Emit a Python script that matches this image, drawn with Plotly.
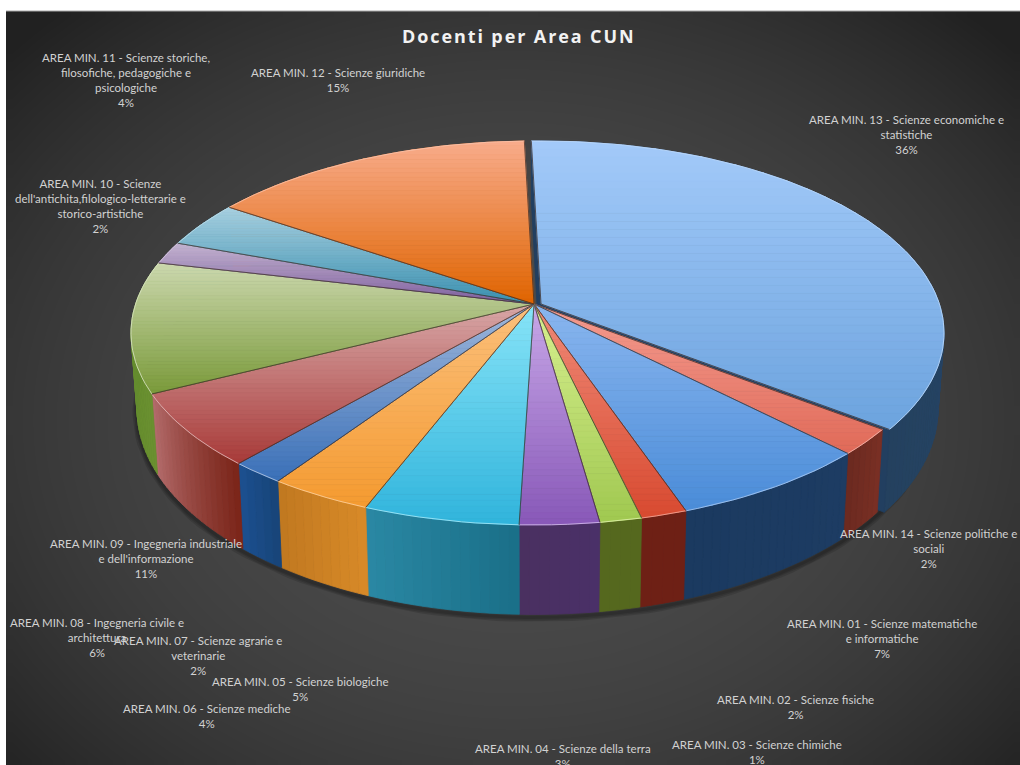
import numpy as np
import plotly.graph_objects as go

# Share of teaching staff per CUN area, in clockwise order from the top of the pie
area_names = [
    "AREA MIN. 13 - Scienze economiche e<br>statistiche",
    "AREA MIN. 14 - Scienze politiche e<br>sociali",
    "AREA MIN. 01 - Scienze matematiche<br>e informatiche",
    "AREA MIN. 02 - Scienze fisiche",
    "AREA MIN. 03 - Scienze chimiche",
    "AREA MIN. 04 - Scienze della terra",
    "AREA MIN. 05 - Scienze biologiche",
    "AREA MIN. 06 - Scienze mediche",
    "AREA MIN. 07 - Scienze agrarie e<br>veterinarie",
    "AREA MIN. 08 - Ingegneria civile e<br>architettura",
    "AREA MIN. 09 - Ingegneria industriale<br>e dell'informazione",
    "AREA MIN. 10 - Scienze<br>dell'antichita,filologico-letterarie e<br>storico-artistiche",
    "AREA MIN. 11 - Scienze storiche,<br>filosofiche, pedagogiche e<br>psicologiche",
    "AREA MIN. 12 - Scienze giuridiche",
]
area_shares = [35.8, 2.2, 7.1, 1.6, 1.45, 2.75, 5.4, 3.6, 1.9, 6.2, 11.0, 1.9, 3.9, 15.1]

# Face colours: light and saturated end of each top gradient, then the two ends of each rim
top_light = ["#a3caf9", "#f59c90", "#8ab6ef", "#f08a78", "#d8f090", "#c8a8e8", "#88e4f8",
             "#fcc07c", "#a0b8dc", "#d8a8a8", "#ccd8ae", "#c4b4d0", "#a8d0e0", "#f8ac8c"]
top_deep = ["#6ca3de", "#e06a58", "#4a8cd8", "#d84a30", "#a0c850", "#8858b8", "#30b4dc",
            "#f49a30", "#3a70b8", "#a83a38", "#7a9a3a", "#8060a0", "#3a90b0", "#e06400"]
rim_start = ["#2d4e75", "#7a2f24", "#1d3c63", "#6e2015", "#55681e", "#4a3068", "#1a6f88",
             "#d88a28", "#174478", "#7a2418", "#6a9030", "#6a5080", "#2a7088", "#b05010"]
rim_end = ["#24415f", "#6b2a20", "#1b3a60", "#6e2015", "#55681e", "#4a3060", "#2a88a4",
           "#c07820", "#1c5090", "#b46c6c", "#5f8a2c", "#6a5080", "#2a7088", "#b05010"]

# Label anchors (centre x, centre y of the text block)
label_x = [906, 928, 882, 795, 757, 563, 300, 207, 198, 97, 146, 100, 126, 338]
label_y = [134, 548, 638, 707, 752, 756, 689, 716, 655, 637, 558, 206, 80, 80]

START_ANGLE = -1.6
CX, CY = 534.0, 304.0
RADIUS_X, RADIUS_Y, PERSPECTIVE = 398.4, 187.6, 0.151
EXPLODE = (7.0, 0.0)  # first slice is pulled out of the pie


def hex_rgb(c):
    return np.array([int(c[i:i + 2], 16) for i in (1, 3, 5)], float)


def mix(a, b, t):
    r, g, b_ = hex_rgb(a) * (1 - t) + hex_rgb(b) * t
    return f"rgb({r:.0f},{g:.0f},{b_:.0f})"


def disk_point(theta, radius=1.0):
    """Perspective projection of a polar position on the top disk, relative to the centre."""
    t = np.radians(theta)
    u, v = radius * np.sin(t), -radius * np.cos(t)
    s = 1 / (1 - PERSPECTIVE * v)
    return RADIUS_X * u * s, RADIUS_Y * v * s


def lower(p):
    """Same position on the bottom disk of the cylinder."""
    return 0.985 * p[0], 1.07 * p[1] + 74


def place(p, off):
    return CX + off[0] + p[0], CY + off[1] + p[1]


def clip_band(poly, y0, y1):
    """Clip a convex polygon to a horizontal band."""
    def cut(points, keep, y_lim):
        out = []
        for i in range(len(points)):
            a, b = points[i], points[(i + 1) % len(points)]
            if keep(a[1]):
                out.append(a)
            if keep(a[1]) != keep(b[1]):
                t = (y_lim - a[1]) / (b[1] - a[1])
                out.append((a[0] + t * (b[0] - a[0]), y_lim))
        return out
    res = cut(poly, lambda y: y >= y0, y0)
    if res:
        res = cut(res, lambda y: y <= y1, y1)
    return res


fig = go.Figure()


def polygon(points, color, edge=0.8):
    xs = [p[0] for p in points] + [points[0][0]]
    ys = [p[1] for p in points] + [points[0][1]]
    fig.add_trace(go.Scatter(x=xs, y=ys, mode="lines", fill="toself", fillcolor=color,
                             line=dict(color=color, width=edge), hoverinfo="skip",
                             showlegend=False))


def stroke(points, color, width):
    fig.add_trace(go.Scatter(x=[p[0] for p in points], y=[p[1] for p in points], mode="lines",
                             line=dict(color=color, width=width), hoverinfo="skip",
                             showlegend=False))


# Panel background with a soft radial falloff
cell_w, cell_h = 1014 / 90, 754 / 70
grid_x = 6 + cell_w * (np.arange(90) + 0.5)
grid_y = 11 + cell_h * (np.arange(70) + 0.5)
gx, gy = np.meshgrid(grid_x, grid_y)
dist = np.sqrt(((gx - 513) / 507) ** 2 + ((gy - 420) / 400) ** 2)
fig.add_trace(go.Heatmap(x=grid_x, y=grid_y, z=76 - 22 * dist ** 2.2, zmin=33, zmax=76,
                         colorscale=[[0, "rgb(33,33,33)"], [1, "rgb(76,76,76)"]],
                         zsmooth="best", showscale=False, hoverinfo="skip"))

# Slice boundaries in degrees
shares = np.array(area_shares)
edges = START_ANGLE + np.concatenate([[0], np.cumsum(shares)]) * 360 / shares.sum()
offsets = [EXPLODE] + [(0.0, 0.0)] * (len(shares) - 1)

# Drop shadow hugging the lower rim
arc = np.linspace(75, 300, 120)
shadow = [place(lower(disk_point(a)), (0, 3)) for a in arc]
for w in (9, 6, 3):
    stroke(shadow, "rgba(0,0,0,0.13)", w)


def draw_rim(i):
    # Narrow strips so the shading runs along the arc
    a0, a1 = edges[i], edges[i + 1]
    n = max(4, int((a1 - a0) / 1.2))
    steps = np.linspace(a0, a1, n + 1)
    for j in range(n):
        p0, p1 = disk_point(steps[j]), disk_point(steps[j + 1])
        polygon([place(p0, offsets[i]), place(p1, offsets[i]),
                 place(lower(p1), offsets[i]), place(lower(p0), offsets[i])],
                mix(rim_start[i], rim_end[i], (j + 0.5) / n))


# The pulled-out slice and its radial walls sit behind everything else
draw_rim(0)
for ang in (edges[0], edges[1]):
    outer, centre = disk_point(ang), (0.0, 0.0)
    polygon([place(centre, EXPLODE), place(outer, EXPLODE),
             place(lower(outer), EXPLODE), place(lower(centre), EXPLODE)], "#223f60")
for i in range(1, len(shares)):
    draw_rim(i)

# Top faces: each wedge is cut into horizontal bands to carry a vertical gradient
BANDS = 36
for i in range(len(shares)):
    angles = np.linspace(edges[i], edges[i + 1], max(4, int((edges[i + 1] - edges[i]) / 1.5)))
    wedge = [place((0.0, 0.0), offsets[i])] + [place(disk_point(a), offsets[i]) for a in angles]
    ys = [p[1] for p in wedge]
    y_min, y_max = min(ys), max(ys)
    cuts = np.linspace(y_min, y_max, BANDS + 1)
    for b in range(BANDS):
        piece = clip_band(wedge, cuts[b], cuts[b + 1])
        if len(piece) >= 3:
            polygon(piece, mix(top_light[i], top_deep[i], (b + 0.5) / BANDS))
    stroke(wedge[1:], mix(top_light[i], "#ffffff", 0.3), 0.8)
    stroke([wedge[1], wedge[0], wedge[-1]], "rgba(60,45,40,0.75)", 1)

# Data labels, with the percentage taken from the same shares as the wedges
annotations = [
    dict(x=x, y=y, xref="x", yref="y", showarrow=False, align="center", xanchor="center",
         yanchor="middle", text=f"{name}<br>{round(val)}%",
         font=dict(family="Lato", size=11.5, color="#d2d2d2"))
    for name, val, x, y in zip(area_names, area_shares, label_x, label_y)
]
annotations.append(dict(x=519, y=36, xref="x", yref="y", showarrow=False, xanchor="center",
                        yanchor="middle",
                        text='<span style="letter-spacing:1.9px"><b>Docenti per Area CUN</b></span>',
                        font=dict(family="Open Sans", size=18, color="#f2f2f2")))

fig.update_layout(
    width=1020, height=765, autosize=False,
    margin=dict(l=0, r=0, t=0, b=0),
    paper_bgcolor="#ffffff", plot_bgcolor="#ffffff",
    xaxis=dict(range=[0, 1020], visible=False, fixedrange=True),
    yaxis=dict(range=[765, 0], visible=False, fixedrange=True),
    annotations=annotations,
    shapes=[dict(type="line", x0=6, x1=1020, y0=11, y1=11, line=dict(color="#a8a8a8", width=1))],
    showlegend=False,
)

fig.write_html("out.html")
